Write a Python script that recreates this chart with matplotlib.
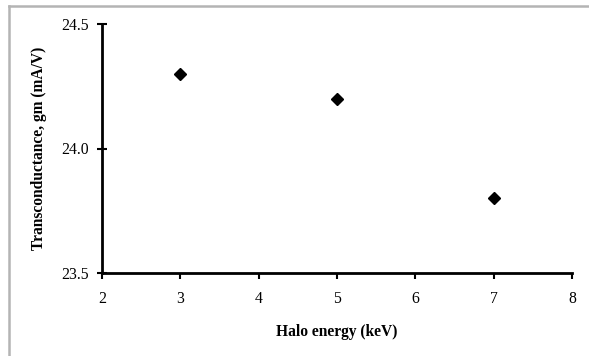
import matplotlib
matplotlib.use("Agg")
import matplotlib.pyplot as plt
from matplotlib.lines import Line2D

halo_energy = [3, 5, 7]
transconductance = [24.3, 24.2, 23.8]
x_ticks = [2, 3, 4, 5, 6, 7, 8]
y_ticks = [23.5, 24.0, 24.5]
y_tick_labels = ["23.5", "24.0", "24.5"]

plt.rcParams['font.family'] = ['Liberation Serif', 'DejaVu Serif']

fig = plt.figure(figsize=(5.89, 3.56), dpi=100)
W, H = 589, 356
ax = fig.add_axes([102 / W, 1 - 273 / H, (572 - 102) / W, (273 - 24) / H])

ax.plot(halo_energy, transconductance, linestyle='none', marker='D',
        markersize=6.5, color='black')

ax.set_xlim(2, 8)
ax.set_ylim(23.5, 24.5)
ax.set_xticks(x_ticks)
ax.set_yticks(y_ticks)
ax.set_yticklabels(y_tick_labels)
for s in ['top', 'right']:
    ax.spines[s].set_visible(False)
for s in ['left', 'bottom']:
    ax.spines[s].set_linewidth(2.0)
ax.tick_params(axis='both', direction='out', length=4, width=1.5,
               labelsize=11.3, colors='black')
ax.tick_params(axis='x', pad=9)
ax.tick_params(axis='y', direction='inout', length=7, pad=6)

ax.set_xlabel('Halo energy (keV)', fontsize=11.2, fontweight='bold', labelpad=12)
ax.set_ylabel('Transconductance, gm (mA/V)', fontsize=11.2, fontweight='bold', labelpad=10)

# Outer chart border (left and top visible)
fig.add_artist(Line2D([8.5 / W, 8.5 / W], [0, 1 - 5.5 / H], transform=fig.transFigure,
                      color='#b4b4b4', linewidth=1.8))
fig.add_artist(Line2D([8.5 / W, 1], [1 - 5.5 / H, 1 - 5.5 / H], transform=fig.transFigure,
                      color='#b4b4b4', linewidth=1.8))

fig.savefig('out.png', dpi=100)
